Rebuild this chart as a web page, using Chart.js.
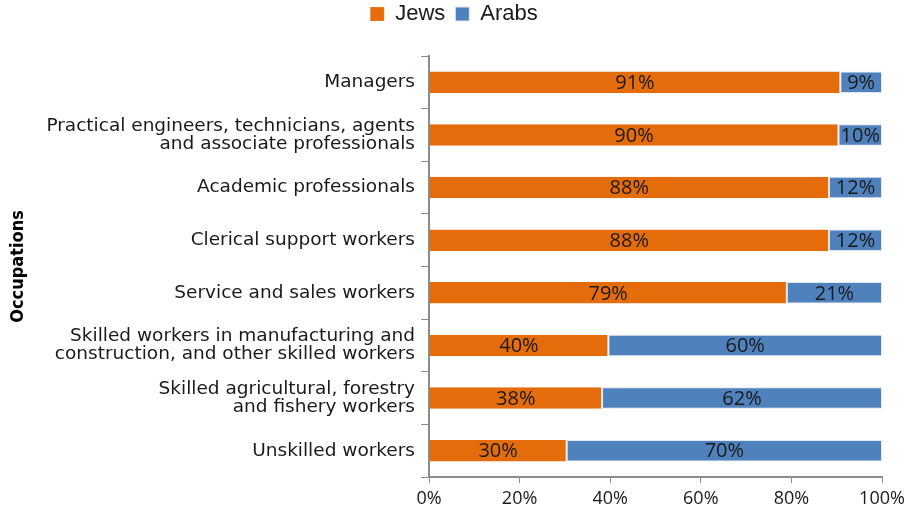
<!DOCTYPE html>
<html lang="en">
<head>
  <meta charset="UTF-8" />
  <title>Occupations by population group</title>
  <script src="https://cdn.jsdelivr.net/npm/chart.js"></script>
  <style>
    html, body { margin: 0; padding: 0; background: #fff; }
    #wrap { width: 917px; height: 516px; }
  </style>
</head>
<body>
  <div id="wrap"><canvas id="occChart" width="917" height="516"></canvas></div>
  <script>
    const occupations = [
      'Managers',
      ['Practical engineers, technicians, agents', 'and associate professionals'],
      'Academic professionals',
      'Clerical support workers',
      'Service and sales workers',
      ['Skilled workers in manufacturing and', 'construction, and other skilled workers'],
      ['Skilled agricultural, forestry', 'and fishery workers'],
      'Unskilled workers'
    ];
    const jews = [90.8, 90.4, 88.3, 88.3, 79.0, 39.6, 38.2, 30.4];
    const arabs = [9.2, 9.6, 11.7, 11.7, 21.0, 60.4, 61.8, 69.6];
    const xTicks = [0, 20, 40, 60, 80, 100];

    // percentages inside the bars + a couple of layout tweaks
    const barLabels = {
      id: 'barLabels',
      beforeInit(chart) {
        // leave room under the legend like the original
        const fit = chart.legend.fit;
        chart.legend.fit = function () {
          fit.call(this);
          this.height = 63;
        };
      },
      afterLayout(chart) {
        // original legend sits a little right of centre
        chart.legend.left += 12;
        chart.legend.right += 12;
      },
      afterDatasetsDraw(chart) {
        const ctx = chart.ctx;
        ctx.save();
        ctx.font = '20px "Open Sans", sans-serif';
        ctx.fillStyle = '#1a1a1a';
        ctx.textAlign = 'center';
        ctx.textBaseline = 'middle';
        chart.data.datasets.forEach((ds, i) => {
          chart.getDatasetMeta(i).data.forEach((bar, j) => {
            const x = (bar.x + bar.base) / 2;
            ctx.fillText(Math.round(ds.data[j]) + '%', x, bar.y + 1);
          });
        });
        ctx.restore();
      }
    };

    new Chart(document.getElementById('occChart'), {
      type: 'bar',
      data: {
        labels: occupations,
        datasets: [
          { label: 'Jews', data: jews, backgroundColor: '#E46C0A', borderColor: '#f3e6dc', borderWidth: { right: 1 }, borderSkipped: false, categoryPercentage: 1, barPercentage: 0.41 },
          { label: 'Arabs', data: arabs, backgroundColor: '#4F81BD', borderColor: '#dfe7f1', borderWidth: 1, borderSkipped: false, categoryPercentage: 1, barPercentage: 0.41 }
        ]
      },
      options: {
        indexAxis: 'y',
        responsive: false,
        animation: false,
        layout: { padding: { top: -7, right: 35, bottom: 0, left: 2 } },
        plugins: {
          legend: {
            position: 'top',
            labels: {
              boxWidth: 14, boxHeight: 14, padding: 10,
              color: '#1a1a1a',
              font: { family: '"Liberation Sans", Arial, sans-serif', size: 22 }
            }
          },
          tooltip: { enabled: false }
        },
        scales: {
          x: {
            stacked: true,
            min: 0, max: 100,
            afterBuildTicks(axis) { axis.ticks = xTicks.map(v => ({ value: v })); },
            afterFit(axis) { axis.height = 39; },
            ticks: {
              color: '#1a1a1a',
              padding: 5,
              font: { family: '"Open Sans", sans-serif', size: 18 },
              callback: v => v + '%'
            },
            grid: { drawOnChartArea: false, tickLength: 6, color: '#8c8c8c' },
            border: { color: '#8c8c8c', width: 2 }
          },
          y: {
            stacked: true,
            afterFit(axis) { axis.width = 427; },
            ticks: {
              color: '#1a1a1a',
              padding: 6,
              font: { family: '"DejaVu Sans", Verdana, sans-serif', size: 18.5, lineHeight: 0.98 }
            },
            grid: { drawOnChartArea: false, offset: true, tickLength: 8, color: '#8c8c8c' },
            border: { color: '#8c8c8c', width: 2 },
            title: {
              display: true,
              text: 'Occupations',
              color: '#000',
              padding: { top: 6, bottom: 0 },
              font: { family: '"DejaVu Sans Condensed", "Liberation Sans Narrow", "Liberation Sans", Arial, sans-serif', size: 18, weight: 'bold' }
            }
          }
        }
      },
      plugins: [barLabels]
    });
  </script>
</body>
</html>
